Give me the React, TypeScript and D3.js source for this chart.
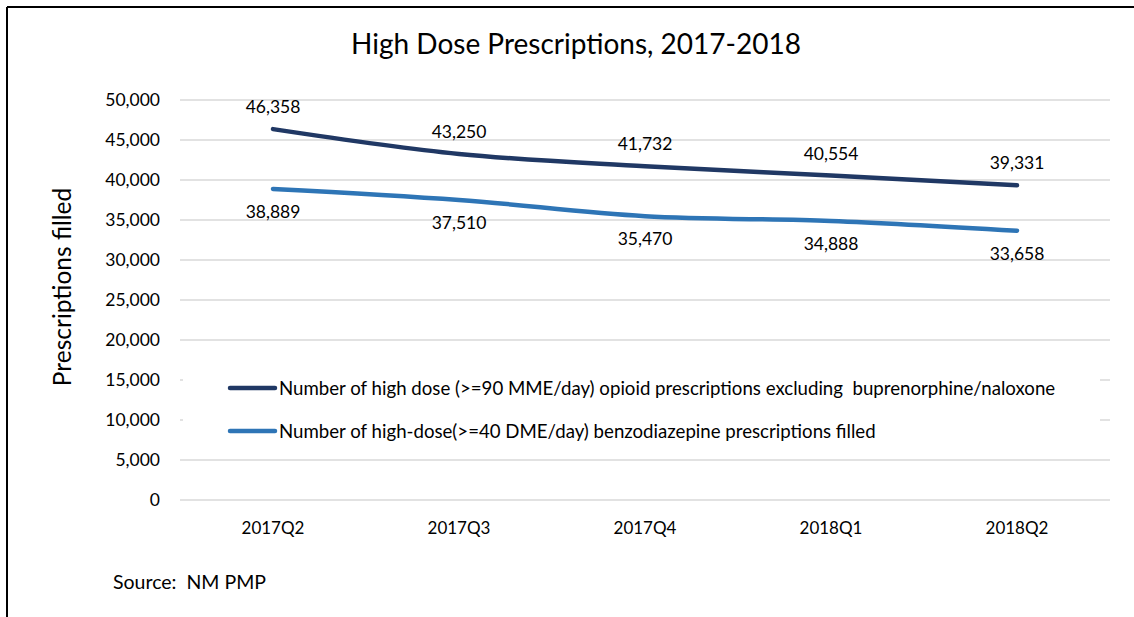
import React from "react";
import * as d3 from "d3";

const categories = ["2017Q2", "2017Q3", "2017Q4", "2018Q1", "2018Q2"];
const opioidValues = [46358, 43250, 41732, 40554, 39331];
const benzoValues = [38889, 37510, 35470, 34888, 33658];
const yTicks = [0, 5000, 10000, 15000, 20000, 25000, 30000, 35000, 40000, 45000, 50000];
const seriesNames = [
  "Number of high dose (>=90 MME/day) opioid prescriptions excluding  buprenorphine/naloxone",
  "Number of high-dose(>=40 DME/day) benzodiazepine prescriptions filled",
];
const title = "High Dose Prescriptions, 2017-2018";
const yTitle = "Prescriptions filled";
const source = "Source:  NM PMP";

const W = 1134;
const H = 617;
const FONT = "Lato, 'Open Sans', sans-serif";

export default function App() {
  const x = d3.scalePoint<string>().domain(categories).range([180, 1110]).padding(0.5);
  const y = d3.scaleLinear().domain([0, 50000]).range([500, 100]);
  const fmt = d3.format(",");
  const line = d3
    .line<number>()
    .x((_, i) => x(categories[i]) as number)
    .y((d) => y(d))
    .curve(d3.curveCatmullRom.alpha(0.5));

  const series = [
    { name: seriesNames[0], values: opioidValues, color: "#203864", above: true },
    { name: seriesNames[1], values: benzoValues, color: "#2E75B6", above: false },
  ];

  return (
    <svg
      width={W}
      height={H}
      style={{ position: "absolute", left: 0, top: 0, background: "#fff", whiteSpace: "pre" }}
      fontFamily={FONT}
    >
      <rect x={0} y={0} width={W} height={H} fill="#fff" />
      <line x1={7} y1={7} x2={W} y2={7} stroke="#000" strokeWidth={2} />
      <line x1={7} y1={7} x2={7} y2={H} stroke="#000" strokeWidth={2} />

      <text x={576} y={54} textAnchor="middle" fontSize={28} fill="#000">
        {title}
      </text>

      {yTicks.map((t) => (
        <line key={t} x1={180} x2={1110} y1={y(t)} y2={y(t)} stroke="#d9d9d9" strokeWidth={1.3} />
      ))}
      {yTicks.map((t) => (
        <text key={"l" + t} x={160} y={y(t)} dy="0.35em" textAnchor="end" fontSize={17.5} fill="#000">
          {fmt(t)}
        </text>
      ))}

      <text
        transform={`translate(62,${287}) rotate(-90)`}
        textAnchor="middle"
        dy="0.35em"
        fontSize={24.5}
        fill="#000"
      >
        {yTitle}
      </text>

      {categories.map((c) => (
        <text key={c} x={x(c)} y={528} dy="0.35em" textAnchor="middle" fontSize={17} fill="#000">
          {c}
        </text>
      ))}

      <rect x={183} y={362} width={917} height={88} fill="#fff" />
      {series.map((s, i) => (
        <g key={s.name} transform={`translate(0,${388 + i * 43})`}>
          <line x1={230} x2={275} y1={0} y2={0} stroke={s.color} strokeWidth={4.5} strokeLinecap="round" />
          <text x={279} y={0} dy="0.35em" fontSize={18.65} fill="#000" style={{ whiteSpace: "pre" }}>
            {s.name}
          </text>
        </g>
      ))}

      {series.map((s) => (
        <path
          key={"p" + s.name}
          d={line(s.values) || ""}
          fill="none"
          stroke={s.color}
          strokeWidth={4.5}
          strokeLinecap="round"
        />
      ))}

      {series.map((s) =>
        s.values.map((v, i) => (
          <text
            key={s.name + i}
            x={x(categories[i])}
            y={y(v) + (s.above ? -22 : 23)}
            dy="0.35em"
            textAnchor="middle"
            fontSize={17.5}
            fill="#000"
          >
            {fmt(v)}
          </text>
        ))
      )}

      <text x={113} y={582} dy="0.35em" fontSize={19.5} fill="#000" style={{ whiteSpace: "pre" }}>
        {source}
      </text>
    </svg>
  );
}
